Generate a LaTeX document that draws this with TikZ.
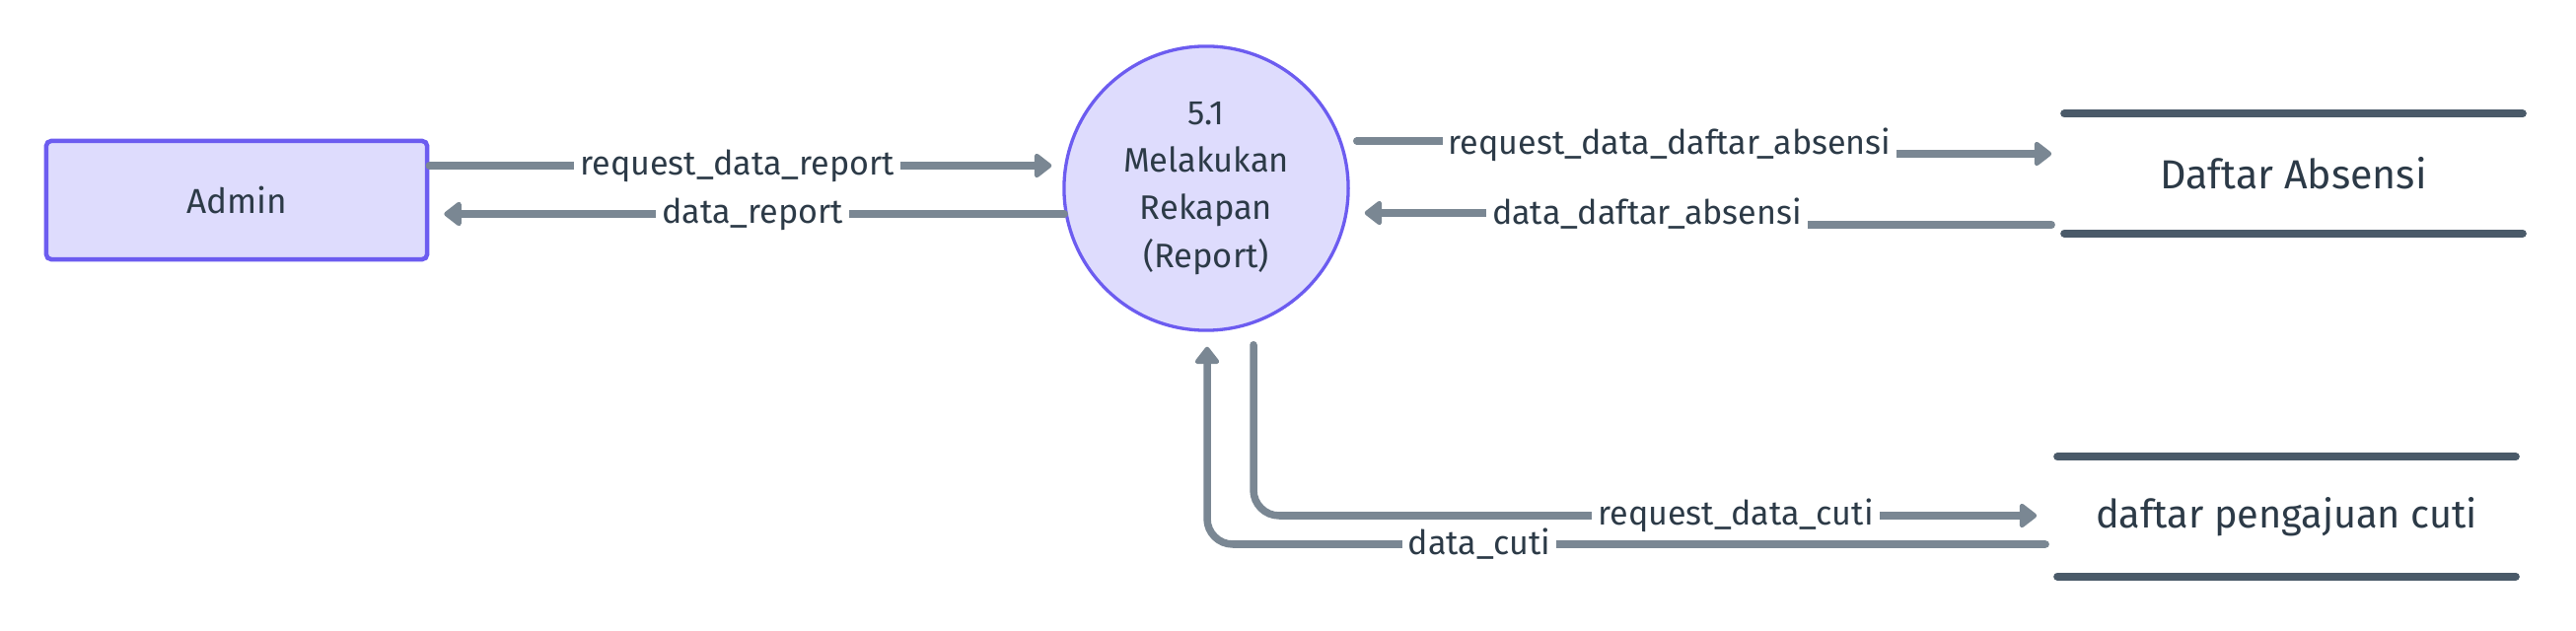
\documentclass[tikz,border=0pt]{standalone}
\usepackage{fontspec}
\setmainfont{Fira Sans}
\usetikzlibrary{arrows.meta,calc}
\definecolor{flowc}{HTML}{7A8793}
\definecolor{storec}{HTML}{4A5A69}
\definecolor{txtc}{HTML}{2C3A47}
\definecolor{procfill}{HTML}{DEDCFD}
\definecolor{procdraw}{HTML}{6C5CF0}
\tikzset{
  proc/.style={circle,draw=procdraw,fill=procfill,line width=0.033cm,minimum size=2.88cm,inner sep=0pt,
    align=center,text=txtc,font=\fontsize{9.8}{13.7}\selectfont},
  ext/.style={rectangle,rounded corners=0.05cm,draw=procdraw,fill=procfill,line width=0.045cm,
    minimum width=3.86cm,minimum height=1.2cm,text=txtc,font=\fontsize{10}{12}\selectfont},
  store/.style={rectangle,minimum width=4.63cm,minimum height=1.2cm,inner sep=0pt,text=txtc},
  storeline/.style={draw=storec,line width=0.08cm,line cap=round},
  flow/.style={draw=flowc,line width=0.075cm,line cap=round,-{Triangle[round,length=0.19cm,width=0.28cm]}},
  lbl/.style={fill=white,text=txtc,inner xsep=0.06cm,inner ysep=0.02cm,font=\fontsize{9.7}{11}\selectfont},
}
\begin{document}
\begin{tikzpicture}[x=0.01cm,y=-0.01cm]
\useasboundingbox (0,0) rectangle (2612,640);
% nodes
\node[ext] (admin) at (240,203) {Admin};
\node[proc] (p) at (1223,191) {5.1\\Melakukan\\Rekapan\\(Report)};
\node[store,font=\fontsize{11.7}{13}\selectfont] (s1) at (2325.5,176) {Daftar Absensi};
\node[store,font=\fontsize{11.3}{13}\selectfont] (s2) at (2318.5,524) {daftar pengajuan cuti};
\draw[storeline] (s1.north west) -- (s1.north east);
\draw[storeline] (s1.south west) -- (s1.south east);
\draw[storeline] (s2.north west) -- (s2.north east);
\draw[storeline] (s2.south west) -- (s2.south east);
% flows
\draw[flow] ($(admin.east)+(0,-35)$) -- ($(p.west)+(-11,-23)$)
  node[lbl,pos=0.495] {request\_data\_report};
\draw[flow] ($(p.west)+(2,26)$) -- ($(admin.east)+(15,14)$)
  node[lbl,pos=0.503] {data\_report};
\draw[flow] ($(p.east)+(7,-48)$) -- (1693,143) -- (1693,156) -- ($(s1.west)+(-13,-20)$);
\node[lbl] at (1693,147) {request\_data\_daftar\_absensi};
\draw[flow] ($(s1.west)+(-13,52)$) -- (1670,228) -- (1670,216) -- ($(p.east)+(15,25)$);
\node[lbl] at (1670,217) {data\_daftar\_absensi};
\draw[flow,rounded corners=0.26cm] ($(p.south)+(48,13)$) |- ($(s2.west)+(-21,-1)$);
\node[lbl] at (1760,523) {request\_data\_cuti};
\draw[flow,rounded corners=0.26cm] ($(s2.west)+(-12,28)$) -| ($(p.south)+(1,15)$);
\node[lbl] at (1500,552) {data\_cuti};
\end{tikzpicture}
\end{document}
